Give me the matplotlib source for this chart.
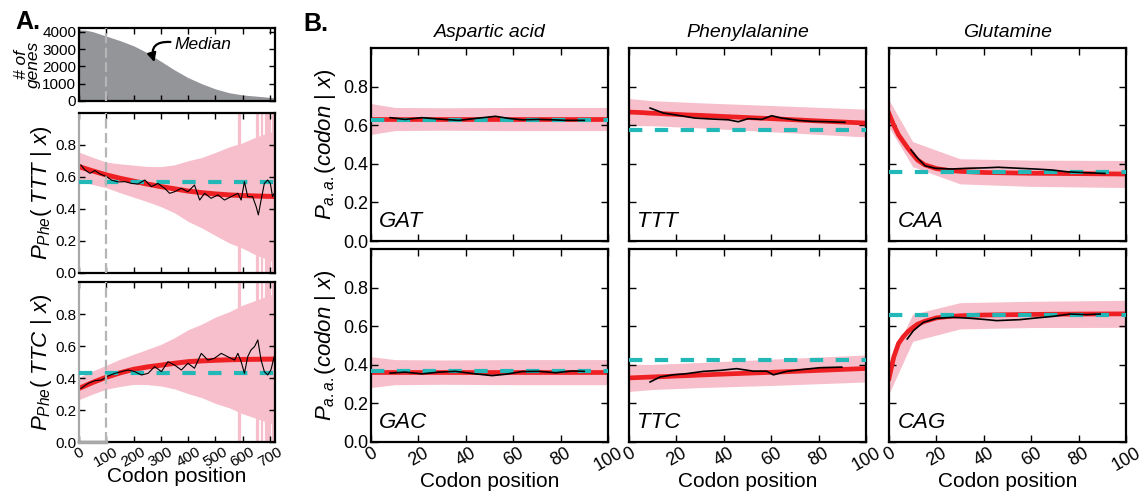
import numpy as np
import matplotlib
matplotlib.use("Agg")
import matplotlib.pyplot as plt

plt.rcParams.update({
    "font.family": ["Liberation Sans", "DejaVu Sans"],
    "mathtext.fontset": "custom",
    "mathtext.it": "Liberation Sans:italic",
    "mathtext.rm": "Liberation Sans",
    "mathtext.sf": "Liberation Sans",
    "axes.linewidth": 1.6,
    "xtick.direction": "in",
    "ytick.direction": "in",
    "xtick.top": True,
    "ytick.right": True,
})

PINK = "#F6BFCB"
RED = "#EE2024"
CYAN = "#22B8B8"
GRAY = "#949599"

# ---------------- panel A data ----------------
hist_pos = [0, 25, 50, 100, 150, 200, 250, 300, 350, 400, 450, 500, 550, 600, 650, 700, 718]
hist_genes = [4120, 4100, 4020, 3760, 3500, 3200, 2800, 2300, 1800, 1350, 1000, 700, 480, 350, 280, 210, 190]

a_fit_x = [0, 50, 100, 150, 200, 250, 300, 350, 400, 450, 500, 550, 600, 650, 700, 718]
ttt_fit = [0.665, 0.638, 0.613, 0.592, 0.574, 0.556, 0.540, 0.526, 0.512, 0.502, 0.494, 0.488, 0.484, 0.481, 0.479, 0.478]
ttc_fit = [0.335, 0.372, 0.405, 0.432, 0.454, 0.469, 0.480, 0.492, 0.502, 0.507, 0.511, 0.514, 0.516, 0.517, 0.518, 0.518]
ttt_hw = [0.09, 0.085, 0.08, 0.09, 0.10, 0.11, 0.125, 0.15, 0.19, 0.22, 0.26, 0.30, 0.33, 0.37, 0.40, 0.41]
ttc_hw = [0.07, 0.072, 0.075, 0.085, 0.094, 0.11, 0.13, 0.16, 0.20, 0.23, 0.27, 0.30, 0.34, 0.37, 0.40, 0.41]
ttt_mean = 0.571
ttc_mean = 0.429
spike_pos = [585, 590, 652, 656, 672, 684, 693, 700, 710]

ttt_avg_x = [7, 22, 40, 58, 77, 101, 119, 144, 168, 192, 216, 241, 265, 289, 314, 332, 350, 375,
             399, 423, 442, 460, 484, 509, 533, 557, 582, 594, 606, 618, 636, 649, 657, 667, 679,
             691, 701, 709, 715]
ttt_avg = [0.675, 0.644, 0.623, 0.640, 0.619, 0.602, 0.581, 0.569, 0.571, 0.560, 0.556, 0.581, 0.540,
           0.560, 0.529, 0.498, 0.508, 0.529, 0.508, 0.550, 0.456, 0.498, 0.467, 0.488, 0.456, 0.477,
           0.498, 0.456, 0.571, 0.477, 0.477, 0.415, 0.363, 0.456, 0.560, 0.581, 0.560, 0.477, 0.498]

ttc_avg_x = [7, 34, 58, 83, 107, 131, 156, 180, 204, 229, 253, 277, 302, 326, 350, 375, 399, 423,
             448, 472, 496, 521, 545, 570, 582, 594, 606, 618, 630, 643, 655, 667, 679, 691, 703, 715]
ttc_avg = [0.335, 0.367, 0.383, 0.388, 0.413, 0.429, 0.440, 0.450, 0.440, 0.419, 0.429, 0.471, 0.440,
           0.502, 0.481, 0.450, 0.492, 0.461, 0.554, 0.512, 0.523, 0.554, 0.533, 0.512, 0.554, 0.502,
           0.429, 0.533, 0.575, 0.596, 0.638, 0.512, 0.440, 0.419, 0.450, 0.533]

# ---------------- panel B data ----------------
amino_acids = ["Aspartic acid", "Phenylalanine", "Glutamine"]
codons_top = ["GAT", "TTT", "CAA"]
codons_bottom = ["GAC", "TTC", "CAG"]

b_fit_x = [0, 2, 4, 6, 8, 10, 12, 15, 20, 25, 30, 40, 60, 80, 100]
b_fit = {
    "GAT": [0.632] * 15,
    "GAC": [0.362] * 15,
    "TTT": [0.668, 0.667, 0.666, 0.665, 0.663, 0.662, 0.661, 0.659, 0.656, 0.653, 0.651, 0.645, 0.634, 0.622, 0.611],
    "TTC": [0.332, 0.333, 0.334, 0.335, 0.336, 0.337, 0.338, 0.339, 0.342, 0.344, 0.347, 0.352, 0.361, 0.371, 0.381],
    "CAA": [0.660, 0.600, 0.550, 0.515, 0.480, 0.450, 0.420, 0.395, 0.375, 0.366, 0.361, 0.355, 0.351, 0.349, 0.347],
    "CAG": [0.330, 0.440, 0.510, 0.545, 0.572, 0.592, 0.610, 0.625, 0.643, 0.650, 0.654, 0.658, 0.661, 0.663, 0.664],
}
b_hw_x = [0, 10, 30, 60, 100]
b_hw = {
    "GAT": [0.080, 0.060, 0.058, 0.060, 0.060],
    "GAC": [0.080, 0.065, 0.063, 0.065, 0.065],
    "TTT": [0.070, 0.065, 0.065, 0.068, 0.072],
    "TTC": [0.070, 0.065, 0.065, 0.068, 0.070],
    "CAA": [0.070, 0.065, 0.065, 0.068, 0.070],
    "CAG": [0.080, 0.070, 0.068, 0.068, 0.070],
}
b_mean = {"GAT": 0.625, "GAC": 0.368, "TTT": 0.577, "TTC": 0.425, "CAA": 0.357, "CAG": 0.657}

b_avg_x = {
    "GAT": [8.1, 14.4, 21.5, 28.5, 37.0, 44.1, 52.5, 58.2, 63.8, 70.9, 76.6, 82.2, 90.0],
    "GAC": [8.1, 14.4, 21.5, 28.5, 35.6, 44.1, 51.1, 56.8, 63.8, 70.9, 77.9, 84.9, 90.0],
    "TTT": [8.9, 14.5, 20.8, 27.8, 34.9, 41.9, 46.1, 50.3, 56.0, 60.2, 64.4, 71.4, 77.1, 84.1, 91.1],
    "TTC": [8.9, 13.1, 18.6, 24.3, 31.4, 38.4, 45.4, 52.5, 58.1, 60.9, 66.5, 75.0, 80.6, 89.8],
    "CAA": [9.3, 11.7, 15.2, 19.4, 26.4, 33.5, 40.5, 46.1, 54.6, 61.6, 68.6, 75.7, 82.7, 91.1],
    "CAG": [7.7, 10.3, 14.5, 20.1, 27.1, 34.2, 41.2, 45.4, 55.3, 62.3, 69.3, 76.4, 83.4, 89.1],
}
b_avg = {
    "GAT": [0.639, 0.630, 0.639, 0.632, 0.625, 0.635, 0.646, 0.635, 0.628, 0.630, 0.628, 0.625, 0.625],
    "GAC": [0.357, 0.362, 0.353, 0.362, 0.366, 0.353, 0.344, 0.351, 0.365, 0.366, 0.359, 0.368, 0.366],
    "TTT": [0.689, 0.663, 0.651, 0.637, 0.632, 0.628, 0.618, 0.634, 0.630, 0.649, 0.637, 0.625, 0.620, 0.618, 0.615],
    "TTC": [0.311, 0.337, 0.348, 0.354, 0.366, 0.371, 0.380, 0.367, 0.367, 0.348, 0.366, 0.378, 0.385, 0.388],
    "CAA": [0.472, 0.434, 0.390, 0.377, 0.373, 0.377, 0.379, 0.382, 0.377, 0.373, 0.368, 0.358, 0.354, 0.350],
    "CAG": [0.534, 0.577, 0.620, 0.641, 0.646, 0.641, 0.634, 0.629, 0.634, 0.643, 0.651, 0.663, 0.660, 0.663],
}

W, H = 1148, 491
fig = plt.figure(figsize=(W / 100, H / 100), dpi=100)


def px_axes(left, top, right, bottom):
    return fig.add_axes([left / W, 1 - bottom / H, (right - left) / W, (bottom - top) / H])


def draw_dashes(ax, xmax, val):
    ax.plot([0, xmax], [val, val], color=CYAN, lw=3, ls=(0, (3.2, 3.0)), zorder=4)


# ---- A: histogram of genes ----
axh = px_axes(79, 28, 275, 101)
axh.fill_between(hist_pos, hist_genes, color=GRAY, lw=0)
axh.set_xlim(0, 718)
axh.set_ylim(0, 4230)
axh.set_yticks([0, 1000, 2000, 3000, 4000])
axh.set_xticks(range(0, 800, 100))
axh.set_xticklabels([])
axh.tick_params(labelsize=11, length=4, width=1, pad=2)
axh.axvline(100, color="#b5b5b5", lw=1.6, ls=(0, (4.5, 2)), zorder=3)
axh.set_ylabel("# of\ngenes", fontsize=12.5, style="italic", linespacing=0.75, labelpad=1)
axh.text(350, 3250, "Median", fontsize=12.5, style="italic", va="center", ha="left")
axh.annotate("", xy=(276, 2250), xytext=(335, 3420),
             arrowprops=dict(arrowstyle="-|>", color="black", lw=1.6,
                             connectionstyle="arc3,rad=0.7", shrinkA=0, shrinkB=0,
                             mutation_scale=13))

# ---- A: TTT and TTC ----
for top, bot, fit, hw, mean, avg_x, avg, label, xl in [
        (113, 273, ttt_fit, ttt_hw, ttt_mean, ttt_avg_x, ttt_avg, r"$P_{Phe}(\ TTT\ |\ x)$", False),
        (282, 442, ttc_fit, ttc_hw, ttc_mean, ttc_avg_x, ttc_avg, r"$P_{Phe}(\ TTC\ |\ x)$", True)]:
    ax = px_axes(79, top, 275, bot)
    fit_a = np.array(fit)
    hw_a = np.array(hw)
    ax.fill_between(a_fit_x, fit_a - hw_a, fit_a + hw_a, color=PINK, lw=0, zorder=1)
    ax.vlines(spike_pos, 0, 1, color=PINK, lw=1.6, zorder=1)
    ax.plot(a_fit_x, fit, color=RED, lw=3.6, zorder=2, solid_capstyle="butt")
    draw_dashes(ax, 718, mean)
    ax.plot(avg_x, avg, color="black", lw=0.8, zorder=5)
    ax.axvline(100, color="#b5b5b5", lw=1.6, ls=(0, (4.5, 2)), zorder=6)
    ax.spines["left"].set_color("#a8a8a8")
    ax.set_xlim(0, 718)
    ax.set_ylim(0, 1)
    ax.set_yticks([0, 0.2, 0.4, 0.6, 0.8])
    ax.set_yticklabels(["0.0", "0.2", "0.4", "0.6", "0.8"])
    ax.set_xticks(range(0, 800, 100))
    ax.tick_params(labelsize=11, length=4, width=1, pad=2)
    ax.set_ylabel(label, fontsize=16, labelpad=1)
    if xl:
        ax.plot([0, 100], [0, 0], color="#a8a8a8", lw=2.5, clip_on=False, zorder=7)
        ax.set_xticklabels([str(v) for v in range(0, 800, 100)], rotation=30, ha="center")
        ax.set_xlabel("Codon position", fontsize=15, labelpad=-2)
    else:
        ax.set_xticklabels([])

# ---- B: 2x3 grid ----
col_left = [371, 629, 889]
rows = [(48, 241, codons_top), (249, 442, codons_bottom)]
for r, (top, bot, codons) in enumerate(rows):
    for c, left in enumerate(col_left):
        cod = codons[c]
        ax = px_axes(left, top, left + 237, bot)
        fit_i = np.interp(b_hw_x, b_fit_x, b_fit[cod])
        hw = np.array(b_hw[cod])
        ax.fill_between(b_hw_x, fit_i - hw, fit_i + hw, color=PINK, lw=0, zorder=1)
        ax.plot(b_fit_x, b_fit[cod], color=RED, lw=3.4, zorder=2)
        draw_dashes(ax, 100, b_mean[cod])
        ax.plot(b_avg_x[cod], b_avg[cod], color="black", lw=1.2, zorder=5)
        ax.set_xlim(0, 100)
        ax.set_ylim(0, 1)
        ax.set_xticks(range(0, 120, 20))
        ax.set_yticks([0, 0.2, 0.4, 0.6, 0.8])
        ax.tick_params(labelsize=13, length=5, width=1, pad=2)
        ax.text(0.035, 0.07, cod, transform=ax.transAxes, fontsize=16, style="italic")
        if c == 0:
            ax.set_yticklabels(["0.0", "0.2", "0.4", "0.6", "0.8"])
            ax.set_ylabel(r"$P_{a.a.}(codon\ |\ x)$", fontsize=16, labelpad=4)
        else:
            ax.set_yticklabels([])
        if r == 1:
            ax.set_xticklabels([str(v) for v in range(0, 120, 20)], rotation=30, ha="center")
            ax.set_xlabel("Codon position", fontsize=15, labelpad=-2)
        else:
            ax.set_xticklabels([])
            ax.set_title(amino_acids[c], fontsize=14, style="italic", pad=8)

fig.text(15 / W, 1 - 22 / H, "A.", fontsize=18, fontweight="bold", va="center")
fig.text(303 / W, 1 - 24 / H, "B.", fontsize=18, fontweight="bold", va="center")

fig.savefig("out.png", dpi=100)
